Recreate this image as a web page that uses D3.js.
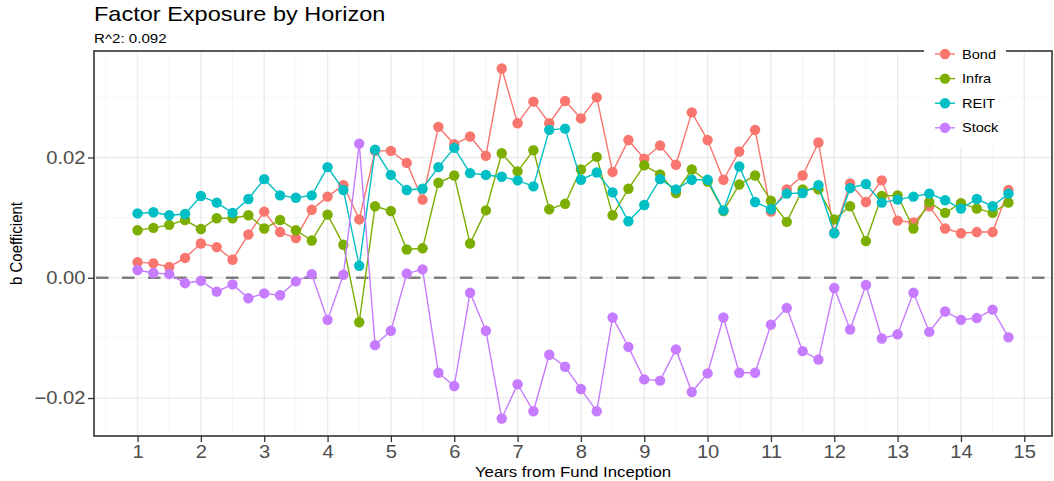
<!DOCTYPE html>
<html>
<head>
<meta charset="utf-8">
<script src="https://cdn.jsdelivr.net/npm/d3@7"></script>
<style>
  body { margin: 0; background: #fff; }
  text { font-family: "Liberation Sans", Arial, sans-serif; }
</style>
</head>
<body>
<div id="chart"></div>
<script>
// data
var years = [1, 1.25, 1.5, 1.75, 2, 2.25, 2.5, 2.75, 3, 3.25, 3.5, 3.75, 4, 4.25, 4.5, 4.75,
  5, 5.25, 5.5, 5.75, 6, 6.25, 6.5, 6.75, 7, 7.25, 7.5, 7.75, 8, 8.25, 8.5, 8.75,
  9, 9.25, 9.5, 9.75, 10, 10.25, 10.5, 10.75, 11, 11.25, 11.5, 11.75, 12, 12.25, 12.5, 12.75,
  13, 13.25, 13.5, 13.75, 14, 14.25, 14.5, 14.75];

var bond = [0.0026, 0.0024, 0.0018, 0.0033, 0.0057, 0.0051, 0.0030, 0.0072, 0.0110, 0.0076, 0.0066, 0.0113,
  0.0135, 0.0154, 0.0097, 0.0211, 0.0211, 0.0191, 0.0130, 0.0251, 0.0222, 0.0235, 0.0203, 0.0348,
  0.0257, 0.0293, 0.0257, 0.0294, 0.0265, 0.0300, 0.0176, 0.0229, 0.0198, 0.0220, 0.0188, 0.0275,
  0.0229, 0.0163, 0.0210, 0.0246, 0.0110, 0.0147, 0.0170, 0.0225, 0.0075, 0.0157, 0.0126, 0.0162,
  0.0095, 0.0092, 0.0119, 0.0082, 0.0074, 0.0076, 0.0076, 0.0146];

var infra = [0.0079, 0.0083, 0.0088, 0.0096, 0.0081, 0.0099, 0.0099, 0.0104, 0.0082, 0.0096, 0.0079, 0.0062,
  0.0105, 0.0055, -0.0074, 0.0119, 0.0111, 0.0047, 0.0049, 0.0158, 0.0170, 0.0057, 0.0112, 0.0207,
  0.0177, 0.0212, 0.0114, 0.0123, 0.0180, 0.0201, 0.0104, 0.0148, 0.0187, 0.0172, 0.0141, 0.0180,
  0.0160, 0.0111, 0.0155, 0.0170, 0.0128, 0.0093, 0.0147, 0.0147, 0.0097, 0.0119, 0.0061, 0.0136,
  0.0137, 0.0082, 0.0126, 0.0108, 0.0124, 0.0115, 0.0108, 0.0125];

var reit = [0.0107, 0.0109, 0.0104, 0.0106, 0.0136, 0.0125, 0.0108, 0.0131, 0.0164, 0.0137, 0.0133, 0.0137,
  0.0184, 0.0146, 0.0020, 0.0213, 0.0171, 0.0146, 0.0148, 0.0184, 0.0216, 0.0174, 0.0171, 0.0168,
  0.0162, 0.0152, 0.0246, 0.0248, 0.0163, 0.0175, 0.0142, 0.0094, 0.0121, 0.0164, 0.0147, 0.0163,
  0.0163, 0.0112, 0.0185, 0.0126, 0.0114, 0.0140, 0.0141, 0.0154, 0.0074, 0.0149, 0.0156, 0.0125,
  0.0130, 0.0135, 0.0140, 0.0129, 0.0115, 0.0131, 0.0119, 0.0140];

var stock = [0.0013, 0.0008, 0.0006, -0.0009, -0.0005, -0.0023, -0.0011, -0.0034, -0.0026, -0.0029, -0.0006, 0.0006,
  -0.0070, 0.0005, 0.0223, -0.0112, -0.0088, 0.0007, 0.0014, -0.0158, -0.0180, -0.0025, -0.0088, -0.0234,
  -0.0177, -0.0222, -0.0128, -0.0148, -0.0185, -0.0222, -0.0066, -0.0115, -0.0169, -0.0171, -0.0119, -0.0190,
  -0.0159, -0.0066, -0.0158, -0.0158, -0.0078, -0.0050, -0.0122, -0.0136, -0.0017, -0.0086, -0.0012, -0.0101,
  -0.0094, -0.0025, -0.0090, -0.0056, -0.0070, -0.0067, -0.0053, -0.0099];

var series_names = ['Bond', 'Infra', 'REIT', 'Stock'],
    series_values = [bond, infra, reit, stock],
    series_colors = ['#F8766D', '#7CAE00', '#00BFC4', '#C77CFF'];

var x_ticks = [1, 2, 3, 4, 5, 6, 7, 8, 9, 10, 11, 12, 13, 14, 15],
    x_minor = [0.5, 1.5, 2.5, 3.5, 4.5, 5.5, 6.5, 7.5, 8.5, 9.5, 10.5, 11.5, 12.5, 13.5, 14.5],
    y_ticks = [-0.02, 0, 0.02],
    y_minor = [-0.01, 0.01, 0.03];

var title = 'Factor Exposure by Horizon',
    subtitle = 'R^2: 0.092',
    x_title = 'Years from Fund Inception',
    y_title = 'b Coefficient';

// sizes
var width = 1054, height = 481,
    panel = {left: 94, right: 1052, top: 51, bottom: 436},
    stretch = 1.12;   // the picture's text is a bit wider than normal

// scales (ggplot style 5% expansion)
var all_vals = d3.merge(series_values),
    y_min = d3.min(all_vals), y_max = d3.max(all_vals),
    y_pad = (y_max - y_min) * 0.05,
    x_pad = (d3.max(years) - d3.min(years)) * 0.05;

var x = d3.scaleLinear()
    .domain([d3.min(years) - x_pad, d3.max(years) + x_pad])
    .range([panel.left, panel.right]);
var y = d3.scaleLinear()
    .domain([y_min - y_pad, y_max + y_pad])
    .range([panel.bottom, panel.top]);

var svg = d3.select('#chart').append('svg')
    .attr('width', width)
    .attr('height', height);

// grid
var grid = svg.append('g');
grid.selectAll('.xminor').data(x_minor.filter(function(d) { return d >= x.domain()[0]; }))
  .enter().append('line')
    .attr('x1', x).attr('x2', x)
    .attr('y1', panel.top).attr('y2', panel.bottom)
    .attr('stroke', '#f2f2f2').attr('stroke-width', 0.8);
grid.selectAll('.yminor').data(y_minor.filter(function(d) { return d >= y.domain()[0] && d <= y.domain()[1]; }))
  .enter().append('line')
    .attr('x1', panel.left).attr('x2', panel.right)
    .attr('y1', y).attr('y2', y)
    .attr('stroke', '#f2f2f2').attr('stroke-width', 0.8);
grid.selectAll('.xmajor').data(x_ticks)
  .enter().append('line')
    .attr('x1', x).attr('x2', x)
    .attr('y1', panel.top).attr('y2', panel.bottom)
    .attr('stroke', '#ebebeb').attr('stroke-width', 1.4);
grid.selectAll('.ymajor').data(y_ticks)
  .enter().append('line')
    .attr('x1', panel.left).attr('x2', panel.right)
    .attr('y1', y).attr('y2', y)
    .attr('stroke', '#ebebeb').attr('stroke-width', 1.4);

// zero line
svg.append('line')
    .attr('x1', panel.left).attr('x2', panel.right)
    .attr('y1', y(0)).attr('y2', y(0))
    .attr('stroke', '#7f7f7f')
    .attr('stroke-width', 2.6)
    .attr('stroke-dasharray', '12.5,13.5')
    .attr('stroke-dashoffset', -2);

// series
var line = d3.line()
    .x(function(d) { return x(d[0]); })
    .y(function(d) { return y(d[1]); });

series_values.forEach(function(vals, i) {
  var pts = years.map(function(yr, j) { return [yr, vals[j]]; });
  var g = svg.append('g');
  g.append('path')
      .datum(pts)
      .attr('d', line)
      .attr('fill', 'none')
      .attr('stroke', series_colors[i])
      .attr('stroke-width', 1.4);
  g.selectAll('circle').data(pts)
    .enter().append('circle')
      .attr('cx', function(d) { return x(d[0]); })
      .attr('cy', function(d) { return y(d[1]); })
      .attr('r', 5.2)
      .attr('fill', series_colors[i]);
});

// panel border
svg.append('rect')
    .attr('x', panel.left).attr('y', panel.top)
    .attr('width', panel.right - panel.left)
    .attr('height', panel.bottom - panel.top)
    .attr('fill', 'none')
    .attr('stroke', '#333333')
    .attr('stroke-width', 1.6);

// axes
var x_axis = d3.axisBottom(x).tickValues(x_ticks).tickSize(6).tickPadding(3).tickFormat(d3.format('d')),
    y_axis = d3.axisLeft(y).tickValues(y_ticks).tickSize(6).tickPadding(3).tickFormat(d3.format('.2f'));

var gx = svg.append('g')
    .attr('transform', 'translate(0,' + panel.bottom + ')')
    .call(x_axis);
var gy = svg.append('g')
    .attr('transform', 'translate(' + panel.left + ',0)')
    .call(y_axis);
[gx, gy].forEach(function(g) {
  g.select('.domain').remove();
  g.selectAll('.tick line').attr('stroke', '#333333').attr('stroke-width', 1.3);
  g.selectAll('.tick text')
    .attr('fill', '#4d4d4d')
    .style('font-size', '18px')
    .style('font-family', '"Liberation Sans", Arial, sans-serif');
});
gx.selectAll('.tick text').attr('transform', 'scale(' + stretch + ',1)');
gy.selectAll('.tick text').attr('x', -8.5 / stretch).attr('transform', 'scale(' + stretch + ',1)');

// horizontal text with the stretch applied around its anchor
function stretched_text(px, py, size, anchor, txt) {
  return svg.append('text')
      .attr('transform', 'translate(' + px + ',' + py + ') scale(' + stretch + ',1)')
      .attr('text-anchor', anchor)
      .style('font-size', size + 'px')
      .attr('fill', '#000')
      .text(txt);
}

// titles
stretched_text(panel.left, 21, 21, 'start', title);
stretched_text(panel.left, 43, 13.5, 'start', subtitle);
stretched_text((panel.left + panel.right) / 2, 477, 15, 'middle', x_title);
svg.append('text')
    .attr('transform', 'translate(22,' + ((panel.top + panel.bottom) / 2) + ') rotate(-90) scale(1,' + stretch + ')')
    .attr('text-anchor', 'middle')
    .style('font-size', '15px')
    .attr('fill', '#000')
    .text(y_title);

// legend
var legend = svg.append('g');
legend.append('rect')
    .attr('x', 924).attr('y', 40)
    .attr('width', 82).attr('height', 107)
    .attr('fill', '#fff');
var rows = legend.selectAll('.row').data(series_names)
  .enter().append('g')
    .attr('transform', function(d, i) { return 'translate(945,' + (54 + i * 24.6) + ')'; });
rows.append('line')
    .attr('x1', -10).attr('x2', 10)
    .attr('stroke', function(d, i) { return series_colors[i]; })
    .attr('stroke-width', 1.4);
rows.append('circle')
    .attr('r', 5.2)
    .attr('fill', function(d, i) { return series_colors[i]; });
rows.append('text')
    .attr('transform', 'translate(17,0) scale(' + stretch + ',1)')
    .attr('dy', '0.36em')
    .style('font-size', '13px')
    .attr('fill', '#000')
    .text(function(d) { return d; });
</script>
</body>
</html>
